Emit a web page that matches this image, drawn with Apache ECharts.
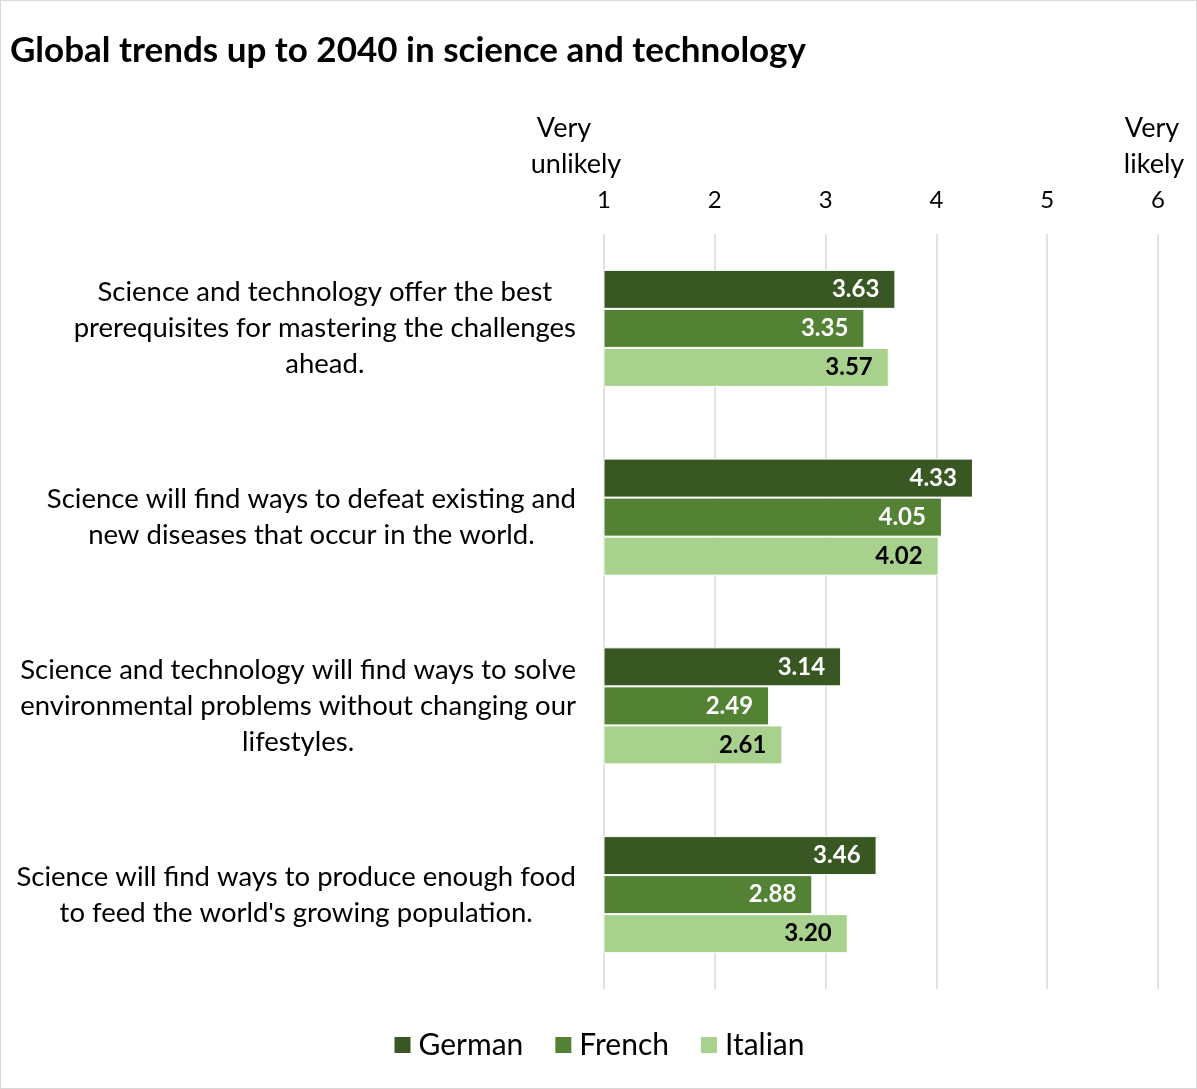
<!DOCTYPE html>
<html>
<head>
<meta charset="utf-8">
<script src="https://cdn.jsdelivr.net/npm/echarts@6/dist/echarts.min.js"></script>
<style>
  html, body { margin: 0; padding: 0; background: #fff; }
  #chart { width: 1197px; height: 1089px; box-sizing: border-box; border: 1px solid #d9d9d9; }
</style>
</head>
<body>
<div id="chart"></div>
<script>
// Statements (shown top to bottom)
const statements = [
  'Science and technology offer the best\nprerequisites for mastering the challenges\nahead.',
  'Science will find ways to defeat existing and\nnew diseases that occur in the world.',
  'Science and technology will find ways to solve\nenvironmental problems without changing our\nlifestyles.',
  "Science will find ways to produce enough food\nto feed the world's growing population."
];

// Mean rating per statement, 1 = very unlikely, 6 = very likely
const german  = [3.63, 4.33, 3.14, 3.46];
const french  = [3.35, 4.05, 2.49, 2.88];
const italian = [3.57, 4.02, 2.61, 3.20];

const scaleTicks = [1, 2, 3, 4, 5, 6];

const FONT = 'Lato, Carlito, "Open Sans", sans-serif';

const chart = echarts.init(document.getElementById('chart'));

function barSeries(name, data, color, labelColor) {
  return {
    name: name,
    type: 'bar',
    data: data,
    barGap: '0%',
    barCategoryGap: '38%',
    itemStyle: { color: color, borderColor: '#ffffff', borderWidth: 1 },
    label: {
      show: true,
      position: 'insideRight',
      distance: 16,
      color: labelColor,
      fontFamily: FONT,
      fontWeight: 'bold',
      fontSize: 24,
      formatter: p => p.value.toFixed(2)
    }
  };
}

chart.setOption({
  animation: false,
  backgroundColor: '#ffffff',
  title: {
    text: 'Global trends up to 2040 in science and technology',
    left: 4,
    top: 27,
    textStyle: { fontFamily: FONT, fontWeight: 'bold', fontSize: 35, color: '#000' }
  },
  legend: {
    bottom: 23,
    left: 'center',
    icon: 'rect',
    itemWidth: 18,
    itemHeight: 18,
    itemGap: 30,
    textStyle: { fontFamily: FONT, fontSize: 30, color: '#000', padding: [0, 0, 0, 2] },
    data: ['German', 'French', 'Italian']
  },
  grid: { left: 603, right: 38, top: 233, bottom: 99, containLabel: false },
  xAxis: {
    type: 'value',
    position: 'top',
    min: scaleTicks[0],
    max: scaleTicks[scaleTicks.length - 1],
    interval: 1,
    axisLine: { show: false },
    axisTick: { show: false },
    splitLine: { show: true, lineStyle: { color: '#d9d9d9', width: 1.5 } },
    axisLabel: {
      margin: 16,
      fontFamily: FONT,
      fontSize: 24,
      color: '#000',
      lineHeight: 36,
      formatter: v => {
        if (v === 1) return '{v1|Very}\n{u1|unlikely}\n{n|1}';
        if (v === 6) return '{v6|Very}\n{u6|likely}\n{n|6}';
        return '{n|' + v + '}';
      },
      rich: {
        n:  { fontFamily: FONT, fontSize: 24, color: '#000', lineHeight: 36 },
        v1: { fontFamily: FONT, fontSize: 27, color: '#000', lineHeight: 36, padding: [0, 80, 0, 0] },
        u1: { fontFamily: FONT, fontSize: 27, color: '#000', lineHeight: 36, padding: [0, 56, 0, 0] },
        v6: { fontFamily: FONT, fontSize: 27, color: '#000', lineHeight: 36, padding: [0, 12, 0, 0] },
        u6: { fontFamily: FONT, fontSize: 27, color: '#000', lineHeight: 36, padding: [0, 8, 0, 0] }
      }
    }
  },
  yAxis: {
    type: 'category',
    inverse: true,
    data: statements,
    axisLine: { show: false },
    axisTick: { show: false },
    splitLine: { show: false },
    axisLabel: {
      margin: 28,
      formatter: s => '{c|' + s + '}',
      rich: {
        c: { fontFamily: FONT, fontSize: 27.5, color: '#000', lineHeight: 36, align: 'center' }
      }
    }
  },
  series: [
    barSeries('German', german, '#385723', '#ffffff'),
    barSeries('French', french, '#548235', '#ffffff'),
    barSeries('Italian', italian, '#a9d18e', '#000000')
  ]
});
</script>
</body>
</html>
